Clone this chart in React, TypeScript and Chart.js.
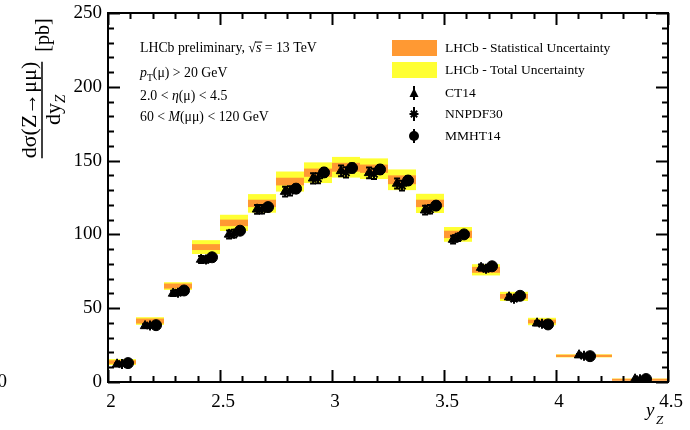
import React, { useEffect, useRef } from "react";
import { Chart, registerables } from "chart.js";
Chart.register(...registerables);

// Bin edges in y_Z
const binLow = [2.0, 2.125, 2.25, 2.375, 2.5, 2.625, 2.75, 2.875, 3.0, 3.125, 3.25, 3.375, 3.5, 3.625, 3.75, 3.875, 4.0, 4.25];
const binHigh = [2.125, 2.25, 2.375, 2.5, 2.625, 2.75, 2.875, 3.0, 3.125, 3.25, 3.375, 3.5, 3.625, 3.75, 3.875, 4.0, 4.25, 4.5];
// LHCb measurement (pb)
const lhcb = [13.5, 41.3, 65.0, 91.4, 107.8, 121.0, 135.8, 141.8, 145.5, 144.5, 137.0, 121.0, 100.0, 76.0, 58.0, 41.0, 17.7, 1.8];
const statErr = [1.2, 1.7, 1.7, 2.0, 2.2, 2.5, 2.6, 2.8, 3.0, 2.8, 3.0, 2.5, 2.5, 2.0, 1.6, 1.3, 0.8, 0.4];
const totErr = [2.0, 2.6, 2.6, 4.7, 5.5, 6.3, 6.8, 7.0, 7.0, 7.0, 7.0, 6.5, 5.0, 3.8, 3.1, 2.5, 1.0, 0.5];
// Theory predictions (pb)
const ct14 = [12.0, 38.0, 60.0, 83.0, 100.0, 117.0, 129.0, 138.0, 143.0, 141.7, 134.5, 116.4, 96.5, 77.5, 57.5, 39.8, 18.2, 1.9];
const ct14Err = [0.5, 1.2, 1.8, 2.3, 2.7, 3.0, 3.3, 3.5, 3.6, 3.6, 3.4, 3.0, 2.6, 2.1, 1.7, 1.3, 0.7, 0.2];
const nnpdf30 = [12.2, 38.2, 60.5, 83.0, 100.5, 117.0, 129.5, 138.0, 142.0, 141.0, 133.0, 117.0, 98.0, 76.8, 56.4, 39.5, 17.8, 1.9];
const nnpdfErr = [0.5, 1.2, 1.8, 2.2, 2.6, 2.9, 3.2, 3.4, 3.5, 3.5, 3.3, 2.9, 2.5, 2.0, 1.6, 1.2, 0.6, 0.2];
const mmht14 = [12.8, 38.5, 62.0, 84.5, 102.5, 118.5, 131.0, 142.0, 145.0, 144.0, 136.5, 119.5, 100.0, 78.4, 58.4, 39.0, 17.5, 2.0];
const mmhtErr = [0.4, 1.0, 1.5, 2.0, 2.3, 2.6, 2.8, 3.0, 3.1, 3.1, 2.9, 2.6, 2.2, 1.8, 1.4, 1.0, 0.5, 0.1];
// Axis ticks
const xTickLabels = [2, 2.5, 3, 3.5, 4, 4.5];
const yTickLabels = [0, 50, 100, 150, 200, 250];

const ORANGE = "#ff9933";
const YELLOW = "#ffff33";
const SERIF = '"Liberation Serif", "DejaVu Serif", serif';

const center = (i: number) => (binLow[i] + binHigh[i]) / 2;

type Seg = { t: string; it?: boolean; sub?: boolean; over?: boolean };
function drawRich(ctx: CanvasRenderingContext2D, segs: Seg[], x: number, y: number, size: number) {
  let cx = x;
  ctx.textBaseline = "alphabetic";
  ctx.textAlign = "left";
  for (const s of segs) {
    const fs = s.sub ? size * 0.7 : size;
    ctx.font = `${s.it ? "italic " : ""}${fs}px ${SERIF}`;
    const dy = s.sub ? size * 0.3 : 0;
    ctx.fillText(s.t, cx, y + dy);
    const w = ctx.measureText(s.t).width;
    if (s.over) {
      ctx.beginPath();
      ctx.lineWidth = 1;
      ctx.moveTo(cx - 1, y - size * 0.72);
      ctx.lineTo(cx + w + 1, y - size * 0.72);
      ctx.stroke();
    }
    cx += w;
  }
  return cx - x;
}

const drawPlugin = {
  id: "lhcbDraw",
  beforeDatasetsDraw(chart: any) {
    const { ctx, scales } = chart;
    const x = scales.x, y = scales.y;
    ctx.save();
    for (let i = 0; i < lhcb.length; i++) {
      const x0 = x.getPixelForValue(binLow[i]);
      const x1 = x.getPixelForValue(binHigh[i]);
      const yt = y.getPixelForValue(lhcb[i] + totErr[i]);
      const yb = y.getPixelForValue(lhcb[i] - totErr[i]);
      ctx.fillStyle = YELLOW;
      ctx.fillRect(x0, yt, x1 - x0, Math.max(yb - yt, 1));
    }
    for (let i = 0; i < lhcb.length; i++) {
      const x0 = x.getPixelForValue(binLow[i]);
      const x1 = x.getPixelForValue(binHigh[i]);
      const yt = y.getPixelForValue(lhcb[i] + statErr[i]);
      const yb = y.getPixelForValue(lhcb[i] - statErr[i]);
      ctx.fillStyle = ORANGE;
      ctx.fillRect(x0, yt, x1 - x0, Math.max(yb - yt, 2));
    }
    const sets = [
      { v: ct14, e: ct14Err, off: -0.022 },
      { v: nnpdf30, e: nnpdfErr, off: 0 },
      { v: mmht14, e: mmhtErr, off: 0.027 },
    ];
    ctx.strokeStyle = "#000";
    ctx.lineWidth = 2;
    for (const s of sets) {
      for (let i = 0; i < s.v.length; i++) {
        const px = x.getPixelForValue(center(i) + s.off);
        const yt = y.getPixelForValue(s.v[i] + s.e[i]);
        const yb = y.getPixelForValue(s.v[i] - s.e[i]);
        ctx.beginPath();
        ctx.moveTo(px, yt);
        ctx.lineTo(px, yb);
        ctx.moveTo(px - 3, yt);
        ctx.lineTo(px + 3, yt);
        ctx.moveTo(px - 3, yb);
        ctx.lineTo(px + 3, yb);
        ctx.stroke();
      }
    }
    ctx.restore();
  },
  afterDraw(chart: any) {
    const { ctx, chartArea, scales } = chart;
    const { left, right, top, bottom } = chartArea;
    const x = scales.x, y = scales.y;
    ctx.save();
    ctx.strokeStyle = "#000";
    ctx.fillStyle = "#000";
    ctx.lineWidth = 2;
    ctx.strokeRect(left, top, right - left, bottom - top);
    for (let k = 0; k <= 25; k++) {
      const v = 2 + k * 0.1;
      const px = Math.round(x.getPixelForValue(v)) + 0.5;
      const major = k % 5 === 0;
      const len = major ? 12 : 6;
      ctx.beginPath();
      ctx.moveTo(px, bottom);
      ctx.lineTo(px, bottom - len);
      ctx.moveTo(px, top);
      ctx.lineTo(px, top + len);
      ctx.stroke();
    }
    for (let k = 0; k <= 25; k++) {
      const v = k * 10;
      const py = Math.round(y.getPixelForValue(v)) + 0.5;
      const major = k % 5 === 0;
      const len = major ? 12 : 6;
      ctx.beginPath();
      ctx.moveTo(left, py);
      ctx.lineTo(left + len, py);
      ctx.moveTo(right, py);
      ctx.lineTo(right - len, py);
      ctx.stroke();
    }
    ctx.font = `19px ${SERIF}`;
    ctx.textAlign = "right";
    ctx.textBaseline = "middle";
    for (const v of yTickLabels) {
      ctx.fillText(String(v), left - 6, y.getPixelForValue(v));
    }
    ctx.fillText("0", 7, y.getPixelForValue(0));
    ctx.textAlign = "center";
    ctx.textBaseline = "top";
    for (const v of xTickLabels) {
      ctx.fillText(String(v), x.getPixelForValue(v) + 3, bottom + 11);
    }
    ctx.textAlign = "left";
    ctx.textBaseline = "alphabetic";
    ctx.font = `italic 19px ${SERIF}`;
    ctx.fillText("y", 646, 416);
    ctx.font = `italic 13px ${SERIF}`;
    ctx.fillText("Z", 656, 424);

    // y title (rotated)
    ctx.save();
    ctx.translate(42, 110);
    ctx.rotate(-Math.PI / 2);
    ctx.textAlign = "center";
    ctx.textBaseline = "alphabetic";
    ctx.font = `22px ${SERIF}`;
    const num = "dσ(Z→μμ)";
    const nw = ctx.measureText(num).width;
    ctx.fillText(num, 0, -6);
    ctx.lineWidth = 1.5;
    ctx.beginPath();
    ctx.moveTo(-nw / 2, 0);
    ctx.lineTo(nw / 2, 0);
    ctx.stroke();
    ctx.textAlign = "left";
    const dw = ctx.measureText("dy").width;
    ctx.fillText("dy", -dw / 2 - 4, 18);
    ctx.font = `italic 15px ${SERIF}`;
    ctx.fillText("Z", dw / 2 - 4, 23);
    ctx.font = `20px ${SERIF}`;
    ctx.fillText("[pb]", nw / 2 + 10, 7);
    ctx.restore();

    ctx.fillStyle = "#000";
    ctx.strokeStyle = "#000";
    const fs = 13.8;
    drawRich(ctx, [{ t: "LHCb preliminary, " }, { t: "√" }, { t: "s", it: true, over: true }, { t: " = 13 TeV" }], 140, 52, fs);
    drawRich(ctx, [{ t: "p", it: true }, { t: "T", sub: true }, { t: "(μ) > 20 GeV" }], 140, 77, fs);
    drawRich(ctx, [{ t: "2.0 < " }, { t: "η", it: true }, { t: "(μ) < 4.5" }], 140, 100, fs);
    drawRich(ctx, [{ t: "60 < " }, { t: "M", it: true }, { t: "(μμ) < 120 GeV" }], 140, 121, fs);

    ctx.fillStyle = ORANGE;
    ctx.fillRect(392, 40, 45, 16);
    ctx.fillStyle = YELLOW;
    ctx.fillRect(392, 62, 45, 16);
    ctx.fillStyle = "#000";
    ctx.font = `13.5px ${SERIF}`;
    ctx.textAlign = "left";
    ctx.textBaseline = "middle";
    ctx.fillText("LHCb - Statistical Uncertainty", 445, 48);
    ctx.fillText("LHCb - Total Uncertainty", 445, 70);
    ctx.fillText("CT14", 445, 93);
    ctx.fillText("NNPDF30", 445, 114);
    ctx.fillText("MMHT14", 445, 136);
    const mx = 414;
    ctx.lineWidth = 2;
    const bar = (cy: number) => {
      ctx.beginPath();
      ctx.moveTo(mx, cy - 7);
      ctx.lineTo(mx, cy + 7);
      ctx.stroke();
    };
    bar(93);
    bar(114);
    bar(136);
    ctx.beginPath();
    ctx.moveTo(mx, 88);
    ctx.lineTo(mx + 4.5, 97);
    ctx.lineTo(mx - 4.5, 97);
    ctx.closePath();
    ctx.fill();
    ctx.beginPath();
    for (let a = 0; a < 4; a++) {
      const ang = (a * Math.PI) / 4;
      ctx.moveTo(mx - 4.5 * Math.cos(ang), 114 - 4.5 * Math.sin(ang));
      ctx.lineTo(mx + 4.5 * Math.cos(ang), 114 + 4.5 * Math.sin(ang));
    }
    ctx.stroke();
    ctx.beginPath();
    ctx.arc(mx, 136, 5, 0, Math.PI * 2);
    ctx.fill();
    ctx.restore();
  },
};

export default function App() {
  const ref = useRef<HTMLCanvasElement | null>(null);
  useEffect(() => {
    if (!ref.current) return;
    const mk = (vals: number[], off: number) => vals.map((v, i) => ({ x: center(i) + off, y: v }));
    const chart = new Chart(ref.current, {
      type: "scatter",
      data: {
        datasets: [
          { label: "CT14", data: mk(ct14, -0.022), pointStyle: "triangle", pointRadius: 5.5, backgroundColor: "#000", borderColor: "#000", borderWidth: 1 },
          { label: "NNPDF30", data: mk(nnpdf30, 0), pointStyle: "star", pointRadius: 5, backgroundColor: "#000", borderColor: "#000", borderWidth: 2 },
          { label: "MMHT14", data: mk(mmht14, 0.027), pointStyle: "circle", pointRadius: 5.5, backgroundColor: "#000", borderColor: "#000", borderWidth: 1 },
        ],
      },
      options: {
        responsive: false,
        animation: false,
        layout: { padding: { left: 108, right: 22, top: 13, bottom: 48 } },
        scales: {
          x: { type: "linear", min: 2, max: 4.5, display: false },
          y: { type: "linear", min: 0, max: 250, display: false },
        },
        plugins: { legend: { display: false }, tooltip: { enabled: false } },
      },
      plugins: [drawPlugin],
    } as any);
    return () => chart.destroy();
  }, []);
  return (
    <div style={{ position: "fixed", left: 0, top: 0, width: 690, height: 430, background: "#fff" }}>
      <canvas ref={ref} width={690} height={430} style={{ display: "block", width: 690, height: 430 }} />
    </div>
  );
}
